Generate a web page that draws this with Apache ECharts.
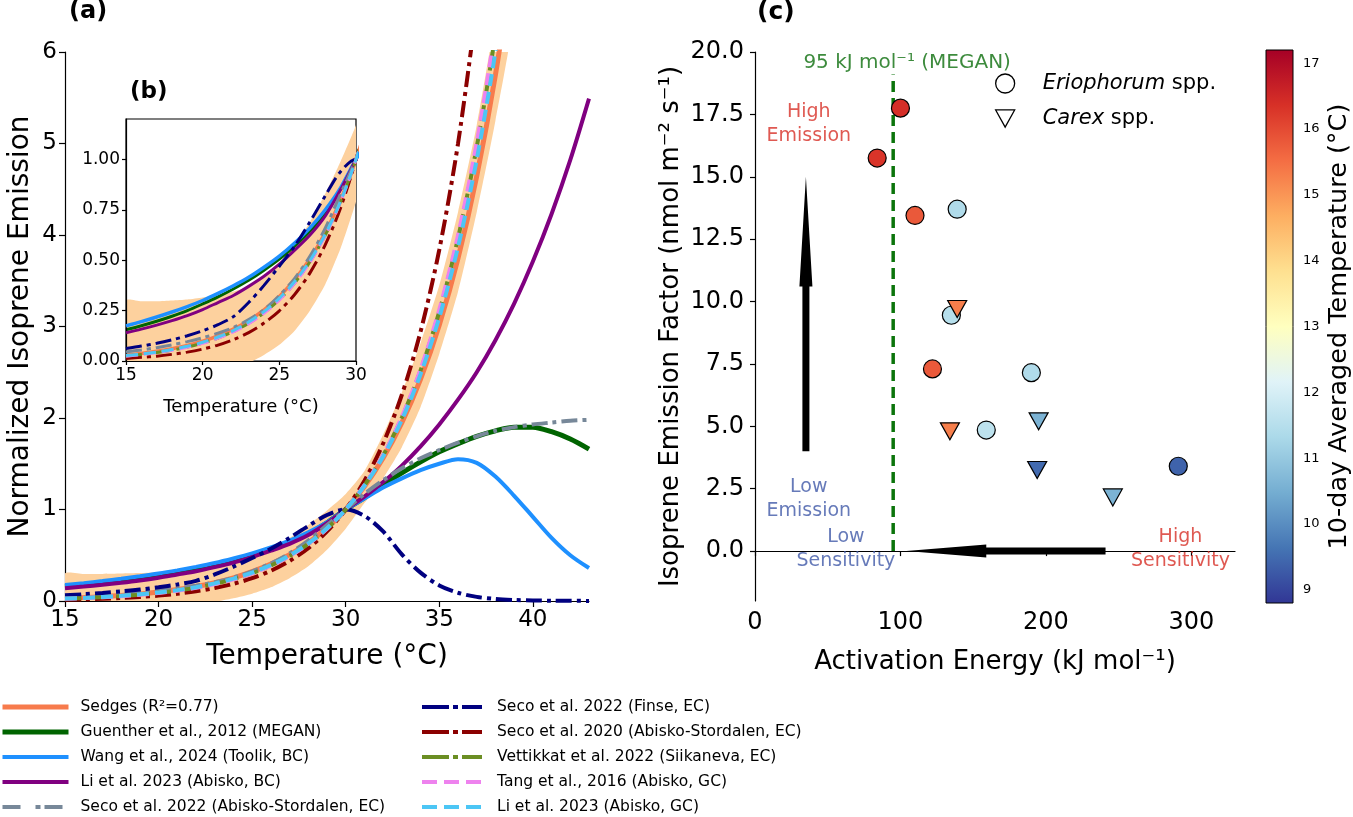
<!DOCTYPE html>
<html><head><meta charset="utf-8">
<script src="https://cdn.jsdelivr.net/npm/echarts@6.0.0/dist/echarts.min.js"></script>
<style>html,body{margin:0;padding:0;background:#fff}#c{width:1353px;height:817px}</style>
</head><body><div id="c"></div>
<script>
// ---------- Panel (a)/(b): normalized emission vs temperature ----------
const temps = [15,16,17,18,19,20,21,22,23,24,25,26,27,28,29,30,31,32,33,34,35,36,37,38,39,40,41,42,43];
const sedges = [0.029,0.037,0.048,0.061,0.077,0.098,0.125,0.158,0.200,0.253,0.320,0.403,0.507,0.637,0.799,1.000,1.251,1.562,1.948,2.425,3.016,3.744,4.643,5.750,7.110,null,null,null,null];
const bandLow = [-0.24,-0.22,-0.20,-0.18,-0.15,-0.12,-0.09,-0.05,-0.01,0.03,0.08,0.15,0.25,0.38,0.56,0.79,1.07,1.34,1.68,2.12,2.70,3.38,4.25,5.25,6.45,null,null,null,null];
const bandHigh = [0.300,0.296,0.296,0.300,0.305,0.315,0.330,0.345,0.370,0.415,0.480,0.570,0.690,0.830,0.990,1.170,1.420,1.820,2.280,2.820,3.450,4.250,5.200,6.400,7.900,null,null,null,null];
const guenther = [0.155,0.175,0.197,0.222,0.250,0.283,0.318,0.357,0.400,0.450,0.505,0.570,0.645,0.735,0.855,1.000,1.130,1.270,1.400,1.520,1.630,1.720,1.800,1.860,1.900,1.900,1.850,1.770,1.660];
const wang = [0.174,0.195,0.218,0.243,0.270,0.300,0.335,0.373,0.415,0.465,0.520,0.585,0.660,0.750,0.860,1.000,1.120,1.240,1.340,1.430,1.500,1.550,1.510,1.360,1.150,0.920,0.690,0.500,0.360];
const liBC = [0.140,0.158,0.178,0.200,0.225,0.255,0.290,0.325,0.370,0.420,0.480,0.550,0.625,0.720,0.850,1.000,1.140,1.300,1.480,1.690,1.930,2.200,2.500,2.850,3.250,3.710,4.230,4.820,5.490];
const secoAbisko = [0.045,0.055,0.066,0.080,0.096,0.115,0.138,0.166,0.205,0.255,0.325,0.410,0.520,0.660,0.830,1.000,1.170,1.320,1.450,1.560,1.650,1.730,1.800,1.860,1.900,1.930,1.950,1.970,1.980];
const secoFinse = [0.062,0.074,0.088,0.105,0.125,0.150,0.180,0.220,0.290,0.375,0.470,0.570,0.690,0.820,0.940,1.000,0.930,0.760,0.510,0.310,0.170,0.090,0.045,0.022,0.011,0.006,0.003,0.002,0.001];
const seco2020 = [0.013,0.018,0.024,0.033,0.044,0.059,0.079,0.106,0.141,0.188,0.249,0.330,0.437,0.577,0.760,1.000,1.314,1.722,2.254,2.944,3.839,4.997,6.496,null,null,null,null,null,null];
const vettikkat = [0.025,0.032,0.042,0.054,0.069,0.089,0.114,0.146,0.187,0.239,0.304,0.387,0.492,0.624,0.791,1.000,1.263,1.592,2.005,2.520,3.163,3.964,4.961,6.200,7.740,null,null,null,null];
const tang = [0.024,0.032,0.041,0.053,0.068,0.088,0.113,0.144,0.185,0.237,0.302,0.385,0.490,0.623,0.790,1.000,1.265,1.597,2.013,2.534,3.185,3.996,5.010,6.270,7.830,null,null,null,null];
const liGC = [0.027,0.034,0.044,0.057,0.073,0.093,0.119,0.151,0.193,0.245,0.311,0.394,0.498,0.629,0.794,1.000,1.258,1.579,1.980,2.479,3.099,3.868,4.823,6.003,7.460,null,null,null,null];
const aTicksX = [15,20,25,30,35,40];
const bTicksY = [0,0.25,0.5,0.75,1.0];

// ---------- Panel (c): emission factor vs activation energy ----------
const erioX = [100,84,110,139,135,122,190,159,291];
const erioY = [17.75,15.75,13.45,13.7,9.45,7.3,7.15,4.85,3.4];
const erioT = [16.4,16.3,15.8,11.4,11.5,15.8,11.4,11.6,9.4];
const carexX = [139,134,195,194,246];
const carexY = [9.7,4.8,5.2,3.25,2.15];
const carexT = [15.3,15.3,10.6,9.5,10.6];
const meganEa = 95;
const meganYRange = [0, 19.1];
// arrows: [tailX, tailY, tipX, tipY, headBaseX, headBaseY]
const arrows = [[35,4,35,15,35,10.6],[241,0,104,0,159,0]];
const annoText = ['High\nEmission','Low\nEmission','Low\nSensitivity','High\nSensitivity','95 kJ mol\u207B\u00B9 (MEGAN)'];
const annoX = [37,37,62.5,292.5,104.6];
const annoY = [17.1,2.1,0.08,0.08,19.58];
const cTicksX = [0,100,200,300];
const cTicksY = [0,2.5,5,7.5,10,12.5,15,17.5,20];
const cbRange = [8.8,17.2];
const cbTicks = [9,10,11,12,13,14,15,16,17];

// ---------- styles ----------
const FF = 'DejaVu Sans, Verdana, sans-serif';
const rdylbuR = ['#313695','#4575b4','#74add1','#abd9e9','#e0f3f8','#ffffbf','#fee090','#fdae61','#f46d43','#d73027','#a50026'];
const annoColor = ['#d73027','#4059a8','#4059a8','#d73027','#0d6e0d'];
const annoSize = [19,19,19,19,20];
const dashDot = [16,5,4,5];
const dashed = [12,6];
const curveDefs = [
  {name:'Sedges (R\u00B2=0.77)', arr:sedges, color:'#f77b4c', w:5, wi:3.5, type:'solid', lw:5, lt:'solid'},
  {name:'Guenther et al., 2012 (MEGAN)', arr:guenther, color:'#006400', w:5, wi:3, type:'solid', lw:5, lt:'solid'},
  {name:'Wang et al., 2024 (Toolik, BC)', arr:wang, color:'#1e90ff', w:4, wi:3.5, type:'solid', lw:4, lt:'solid'},
  {name:'Li et al. 2023 (Abisko, BC)', arr:liBC, color:'#800080', w:4, wi:3, type:'solid', lw:4, lt:'solid'},
  {name:'Seco et al. 2022 (Abisko-Stordalen, EC)', arr:secoAbisko, color:'#778899', w:4, wi:3, type:dashDot, lw:4, lt:[18,15,5,4]},
  {name:'Seco et al. 2022 (Finse, EC)', arr:secoFinse, color:'#000080', w:4, wi:3, type:dashDot, lw:4, lt:[27,4,5,4]},
  {name:'Seco et al. 2020 (Abisko-Stordalen, EC)', arr:seco2020, color:'#8b0000', w:4, wi:3, type:dashDot, lw:4, lt:[27,4,5,4]},
  {name:'Vettikkat et al. 2022 (Siikaneva, EC)', arr:vettikkat, color:'#6b8e23', w:4, wi:3, type:dashDot, lw:4, lt:[27,4,5,4]},
  {name:'Tang et al., 2016 (Abisko, GC)', arr:tang, color:'#ee82ee', w:4, wi:3, type:dashed, lw:4, lt:[15,7]},
  {name:'Li et al. 2023 (Abisko, GC)', arr:liGC, color:'#4cc6f5', w:4, wi:3, type:dashed, lw:4, lt:[15,7]}
];
const pts = arr => temps.map((t,i) => [t, arr[i]]);

const series = [];
[0,1].forEach(g => {
  series.push({type:'custom', xAxisIndex:g, yAxisIndex:g, silent:true, data:[[15,0]], z:1,
    renderItem:(params, api) => {
      const up = [], lo = [];
      temps.forEach((t,i) => {
        if (bandHigh[i] != null) { up.push(api.coord([t, bandHigh[i]])); lo.push(api.coord([t, bandLow[i]])); }
      });
      const cs = params.coordSys;
      return {type:'polygon', shape:{points:up.concat(lo.reverse()), smooth:0.2},
        style:{fill:'#fdd19e'},
        clipPath:{type:'rect', shape:{x:cs.x, y:cs.y, width:cs.width, height:cs.height}}};
    }});
  curveDefs.forEach((c,k) => series.push({type:'line', name:c.name, xAxisIndex:g, yAxisIndex:g,
    data:pts(c.arr), symbol:'none', smooth:0.3, silent:true,
    lineStyle:{color:c.color, width:g ? c.wi : c.w, type:c.type, cap:'butt'},
    itemStyle:{color:c.color}, z:2+k}));
});

// panel c
series.push({type:'line', xAxisIndex:2, yAxisIndex:2, silent:true, symbol:'none',
  data:[[meganEa, meganYRange[0]],[meganEa, meganYRange[1]]],
  lineStyle:{color:'#0b740b', width:3.5, type:[11,6]}, z:2});
series.push({type:'custom', xAxisIndex:2, yAxisIndex:2, silent:true, data:arrows,
  encode:{x:[0,2,4], y:[1,3,5]}, z:3,
  renderItem:(params, api) => {
    const t = api.coord([api.value(0), api.value(1)]);
    const p = api.coord([api.value(2), api.value(3)]);
    const b = api.coord([api.value(4), api.value(5)]);
    const dx = p[0]-t[0], dy = p[1]-t[1], L = Math.hypot(dx,dy);
    const nx = -dy/L, ny = dx/L, hw = 3.5, hh = 6.5;
    return {type:'polygon', shape:{points:[
      [t[0]+nx*hw, t[1]+ny*hw],[b[0]+nx*hw, b[1]+ny*hw],[b[0]+nx*hh, b[1]+ny*hh],[p[0],p[1]],
      [b[0]-nx*hh, b[1]-ny*hh],[b[0]-nx*hw, b[1]-ny*hw],[t[0]-nx*hw, t[1]-ny*hw]]},
      style:{fill:'#000'}};
  }});
const erioIdx = series.length;
series.push({type:'scatter', name:'Eriophorum spp.', xAxisIndex:2, yAxisIndex:2, silent:true,
  data:erioX.map((x,i) => [x, erioY[i], erioT[i]]), symbol:'circle', symbolSize:18,
  itemStyle:{borderColor:'#000', borderWidth:1.2, opacity:1}, z:5});
const carexIdx = series.length;
const downTri = 'path://M0 0 L20 0 L10 18 Z';
series.push({type:'scatter', name:'Carex spp.', xAxisIndex:2, yAxisIndex:2, silent:true,
  data:carexX.map((x,i) => [x, carexY[i], carexT[i]]), symbol:downTri, symbolSize:[19,17],
  itemStyle:{borderColor:'#000', borderWidth:1.2, opacity:1}, z:6});
series.push({type:'scatter', xAxisIndex:2, yAxisIndex:2, silent:true, symbolSize:1,
  itemStyle:{color:'rgba(0,0,0,0)'}, z:7,
  data:annoText.map((s,i) => ({value:[annoX[i], annoY[i]],
    label:{show:true, position:'inside', formatter:s, color:annoColor[i],
      fontSize:annoSize[i], lineHeight:24, fontFamily:FF, align:'center'}}))});
// colorbar
series.push({type:'custom', xAxisIndex:3, yAxisIndex:3, silent:true,
  data:[[0, cbRange[0], 1, cbRange[1]]], encode:{x:[0,2], y:[1,3]},
  renderItem:(params, api) => {
    const a = api.coord([api.value(0), api.value(3)]);
    const b = api.coord([api.value(2), api.value(1)]);
    const stops = rdylbuR.map((c,i) => ({offset:i/(rdylbuR.length-1), color:c}));
    return {type:'rect', shape:{x:a[0], y:a[1], width:b[0]-a[0], height:b[1]-a[1]},
      style:{fill:new echarts.graphic.LinearGradient(0,1,0,0,stops), stroke:'#000', lineWidth:1}};
  }});

const axisCommon = (fs) => ({
  axisLine:{show:true, lineStyle:{color:'#000', width:1.2}},
  axisTick:{show:true, length:6, lineStyle:{color:'#000', width:1.2}},
  axisLabel:{fontSize:fs, color:'#000', fontFamily:FF},
  splitLine:{show:false},
  nameTextStyle:{color:'#000', fontFamily:FF}
});
const merge = (a,b) => { const o = Object.assign({}, a); for (const k in b) { o[k] = (typeof b[k] === 'object' && !Array.isArray(b[k]) && a[k]) ? Object.assign({}, a[k], b[k]) : b[k]; } return o; };
const legendItems = list => list.map(c => ({name:c.name, lineStyle:{color:c.color, width:c.lw, type:c.lt, cap:'butt'}}));

const option = {
  animation:false,
  backgroundColor:'#fff',
  textStyle:{fontFamily:FF},
  title:[
    {text:'(a)', left:69, top:0, padding:0, textStyle:{fontSize:24, fontWeight:'bold', color:'#000', fontFamily:FF}},
    {text:'(b)', left:130, top:81, padding:0, textStyle:{fontSize:23, fontWeight:'bold', color:'#000', fontFamily:FF}},
    {text:'(c)', left:757, top:0, padding:0, textStyle:{fontSize:25, fontWeight:'bold', color:'#000', fontFamily:FF}}
  ],
  grid:[
    {left:65, top:52, width:524, height:549},
    {left:126, top:119, width:230, height:242, show:true, backgroundColor:'#fff', borderColor:'#000', borderWidth:1.2},
    {left:755, top:52, width:480, height:549},
    {left:1266, top:50, width:28, height:553}
  ],
  xAxis:[
    merge(axisCommon(23), {gridIndex:0, type:'value', min:15, max:43,
      axisTick:{customValues:aTicksX}, axisLabel:{customValues:aTicksX, margin:8},
      name:'Temperature (\u00B0C)', nameLocation:'middle', nameGap:42, nameTextStyle:{fontSize:28}}),
    merge(axisCommon(17), {gridIndex:1, type:'value', min:15, max:30, interval:5, z:4,
      axisTick:{length:4}, axisLabel:{margin:6},
      name:'Temperature (\u00B0C)', nameLocation:'middle', nameGap:37, nameTextStyle:{fontSize:18}}),
    merge(axisCommon(24), {gridIndex:2, type:'value', min:0, max:330,
      axisTick:{customValues:cTicksX, length:5}, axisLabel:{customValues:cTicksX, margin:10},
      name:'Activation Energy (kJ mol\u207B\u00B9)', nameLocation:'middle', nameGap:48, nameTextStyle:{fontSize:26}}),
    {gridIndex:3, type:'value', min:0, max:1, show:false}
  ],
  yAxis:[
    merge(axisCommon(23), {gridIndex:0, type:'value', min:0, max:6, interval:1,
      axisLabel:{margin:8},
      name:'Normalized Isoprene Emission', nameLocation:'middle', nameGap:30, nameTextStyle:{fontSize:28}}),
    merge(axisCommon(17), {gridIndex:1, type:'value', min:0, max:1.2, z:4,
      axisTick:{customValues:bTicksY, length:4}, axisLabel:{customValues:bTicksY, margin:6, formatter:v => v.toFixed(2)}}),
    merge(axisCommon(24), {gridIndex:2, type:'value', min:-2, max:20,
      axisTick:{customValues:cTicksY, length:5}, axisLabel:{customValues:cTicksY, margin:11, formatter:v => v.toFixed(1)},
      name:'Isoprene Emission Factor (nmol m\u207B\u00B2 s\u207B\u00B9)', nameLocation:'middle', nameGap:71, nameTextStyle:{fontSize:26}}),
    merge(axisCommon(13), {gridIndex:3, type:'value', min:cbRange[0], max:cbRange[1], position:'right',
      axisLine:{show:false}, axisTick:{customValues:cbTicks, length:6}, axisLabel:{customValues:cbTicks, margin:10},
      name:'10-day Averaged Temperature (\u00B0C)', nameLocation:'middle', nameRotate:90, nameGap:33, nameTextStyle:{fontSize:25.5}})
  ],
  visualMap:[{type:'continuous', show:false, min:cbRange[0], max:cbRange[1], dimension:2,
    seriesIndex:[erioIdx, carexIdx], inRange:{color:rdylbuR}}],
  legend:[
    {data:legendItems(curveDefs.slice(0,5)), orient:'vertical', left:0, top:699, padding:0,
      itemWidth:66, itemHeight:16, itemGap:9, selectedMode:false, itemStyle:{opacity:0},
      textStyle:{fontSize:15.5, color:'#000', fontFamily:FF, padding:[0,0,0,7]}},
    {data:legendItems(curveDefs.slice(5)), orient:'vertical', left:420, top:699, padding:0,
      itemWidth:60, itemHeight:16, itemGap:9, selectedMode:false, itemStyle:{opacity:0},
      textStyle:{fontSize:15.5, color:'#000', fontFamily:FF, padding:[0,0,0,10]}},
    {data:[{name:'Eriophorum spp.', icon:'circle', itemStyle:{color:'#fff', borderColor:'#000', borderWidth:1.3}},
           {name:'Carex spp.', icon:downTri, itemStyle:{color:'#fff', borderColor:'#000', borderWidth:1.3}}],
      orient:'vertical', left:995, top:73, padding:0, itemWidth:19, itemHeight:19, itemGap:14, selectedMode:false,
      formatter:n => '{i|' + n.replace(' spp.','') + '}{n| spp.}',
      textStyle:{color:'#000', fontFamily:FF, padding:[0,0,0,23],
        rich:{i:{fontStyle:'italic', fontSize:21, fontFamily:FF, color:'#000'}, n:{fontSize:21, fontFamily:FF, color:'#000'}}}}
  ],
  series:series
};
const chart = echarts.init(document.getElementById('c'));
chart.setOption(option);
</script></body></html>
